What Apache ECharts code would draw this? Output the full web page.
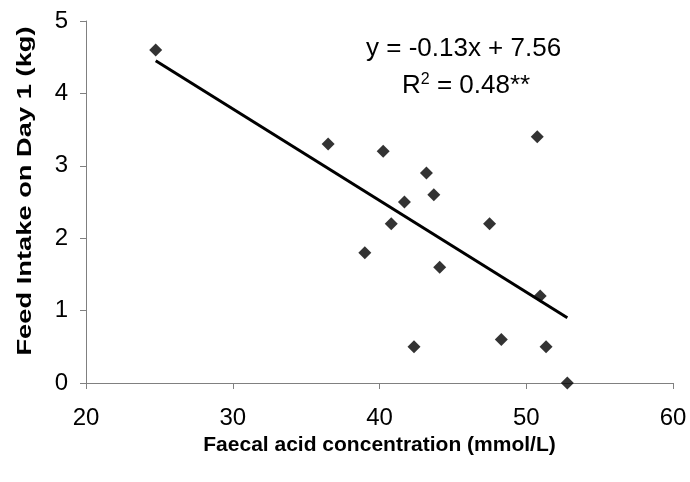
<!DOCTYPE html>
<html>
<head>
<meta charset="utf-8">
<script src="https://cdn.jsdelivr.net/npm/echarts@6/dist/echarts.min.js"></script>
<style>
html,body{margin:0;padding:0;background:#fff;}
#chart{width:690px;height:482px;}
</style>
</head>
<body>
<div id="chart"></div>
<script>
// Data
var faecalAcid = [24.75, 36.5, 40.25, 50.75, 43.2, 43.7, 41.7, 40.8, 47.5, 39.0, 44.1, 50.95, 42.35, 48.3, 51.35, 52.8];
var feedIntake = [4.6, 3.3, 3.2, 3.4, 2.9, 2.6, 2.5, 2.2, 2.2, 1.8, 1.6, 1.2, 0.5, 0.6, 0.5, 0.0];
var trendX = [24.75, 52.8];
var trendY = [4.45, 0.90];
var xTicks = [20, 30, 40, 50, 60];
var yTicks = [0, 1, 2, 3, 4, 5];
var equationText = 'y = -0.13x + 7.56';
var xTitle = 'Faecal acid concentration (mmol/L)';
var yTitle = 'Feed Intake on Day 1 (kg)';

var FONT = '"Liberation Sans", Arial, sans-serif';
var chart = echarts.init(document.getElementById('chart'), null, {renderer: 'canvas'});

var scatterData = faecalAcid.map(function (x, i) { return [x, feedIntake[i]]; });
var trendData = trendX.map(function (x, i) { return [x, trendY[i]]; });

var option = {
  backgroundColor: '#ffffff',
  animation: false,
  grid: {left: 86, right: 17, top: 21, bottom: 99},
  xAxis: {
    type: 'value',
    min: xTicks[0], max: xTicks[xTicks.length - 1], interval: 10,
    name: xTitle, nameLocation: 'middle', nameGap: 46,
    nameTextStyle: {fontFamily: FONT, fontSize: 21, fontWeight: 'bold', color: '#000'},
    axisLine: {show: true, lineStyle: {color: '#808080', width: 1}},
    axisTick: {show: true, length: 6, lineStyle: {color: '#808080'}},
    axisLabel: {fontFamily: FONT, fontSize: 24, color: '#000', margin: 23},
    splitLine: {show: false}
  },
  yAxis: {
    type: 'value',
    min: yTicks[0], max: yTicks[yTicks.length - 1], interval: 1,
    axisLine: {show: true, lineStyle: {color: '#808080', width: 1}},
    axisTick: {show: true, length: 6, lineStyle: {color: '#808080'}},
    axisLabel: {fontFamily: FONT, fontSize: 24, color: '#000', margin: 18},
    splitLine: {show: false}
  },
  series: [
    {
      type: 'line',
      data: trendData,
      symbol: 'none',
      lineStyle: {color: '#000', width: 3},
      z: 2
    },
    {
      type: 'scatter',
      data: scatterData,
      symbol: 'diamond',
      symbolSize: 13,
      itemStyle: {color: '#000'},
      z: 3
    }
  ],
  graphic: [
    {
      type: 'text',
      x: 25, y: 191,
      rotation: Math.PI / 2,
      scaleX: 1.3,
      style: {
        text: yTitle,
        fontFamily: FONT, fontSize: 21, fontWeight: 'bold', fill: '#000',
        textAlign: 'center', textVerticalAlign: 'middle'
      }
    },
    {
      type: 'text',
      left: 366, top: 36,
      style: {
        text: equationText,
        fontFamily: FONT, fontSize: 26, fill: '#000'
      }
    },
    {
      type: 'text',
      left: 402, top: 72,
      style: {
        text: '{r|R}{sup|2}{r| = 0.48**}',
        fontFamily: FONT, fill: '#000',
        rich: {
          r: {fontFamily: FONT, fontSize: 26, lineHeight: 28, fill: '#000'},
          sup: {fontFamily: FONT, fontSize: 16, lineHeight: 16, fill: '#000', verticalAlign: 'top'}
        }
      }
    }
  ]
};
chart.setOption(option);
</script>
</body>
</html>
